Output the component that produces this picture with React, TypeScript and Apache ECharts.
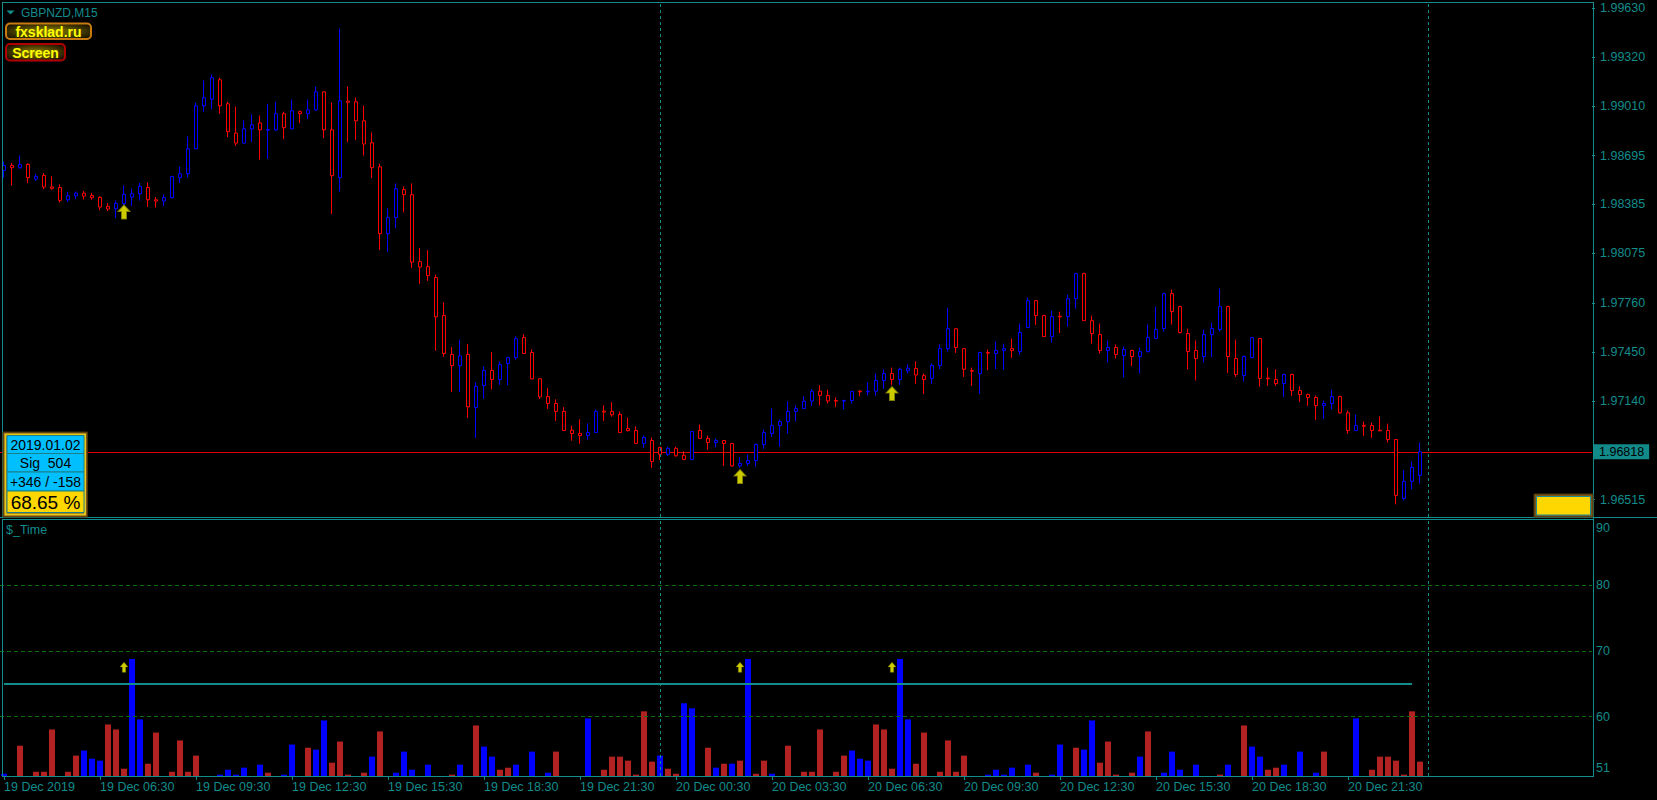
import React, { useEffect, useRef } from 'react';
import * as echarts from 'echarts';

const TEAL = '#138C8C';
const FONT = "'Liberation Sans', Arial, sans-serif";

const symbolTitle = 'GBPNZD,M15';
const timeLabels = [
  '19 Dec 2019', '19 Dec 06:30', '19 Dec 09:30', '19 Dec 12:30', '19 Dec 15:30',
  '19 Dec 18:30', '19 Dec 21:30', '20 Dec 00:30', '20 Dec 03:30', '20 Dec 06:30',
  '20 Dec 09:30', '20 Dec 12:30', '20 Dec 15:30', '20 Dec 18:30', '20 Dec 21:30',
];
const barsPerLabel = 12;
const slotCount = 199;

// [open, close, low, high] for each M15 bar
const candles: number[][] = [
  [1.98601, 1.98632, 1.98555, 1.98658], [1.98632, 1.98618, 1.98506, 1.98649], [1.98618, 1.98639, 1.98611, 1.98696],
  [1.98639, 1.98555, 1.98521, 1.98647], [1.98546, 1.98563, 1.98534, 1.9858], [1.98569, 1.98496, 1.98483, 1.98584],
  [1.98496, 1.98487, 1.98479, 1.98563], [1.98492, 1.98411, 1.98398, 1.98513], [1.98415, 1.9844, 1.984, 1.98466],
  [1.9844, 1.98457, 1.98419, 1.98468], [1.98457, 1.98438, 1.98417, 1.9847], [1.98442, 1.98428, 1.98415, 1.98459],
  [1.9843, 1.98369, 1.98348, 1.98438], [1.98373, 1.98356, 1.98344, 1.98394], [1.98358, 1.98392, 1.98299, 1.98411],
  [1.9839, 1.98449, 1.98369, 1.98506], [1.98432, 1.98453, 1.98375, 1.98485], [1.98453, 1.985, 1.98409, 1.98521],
  [1.98492, 1.98415, 1.98369, 1.98525], [1.98415, 1.98407, 1.98365, 1.98432], [1.98407, 1.98428, 1.98377, 1.98449],
  [1.98428, 1.98563, 1.98424, 1.98566], [1.98555, 1.9858, 1.98521, 1.98626], [1.9858, 1.98738, 1.98555, 1.98816],
  [1.98738, 1.9901, 1.98736, 1.99031], [1.9901, 1.99061, 1.9897, 1.99171], [1.99052, 1.99188, 1.98989, 1.99209],
  [1.99175, 1.9901, 1.9896, 1.99188], [1.99023, 1.98846, 1.98812, 1.99036], [1.98837, 1.98774, 1.98757, 1.99006],
  [1.98774, 1.98864, 1.9877, 1.98917], [1.98864, 1.9889, 1.9878, 1.98956], [1.98902, 1.98858, 1.98669, 1.98949],
  [1.98856, 1.9886, 1.98673, 1.99023], [1.98858, 1.9896, 1.9885, 1.99036], [1.9896, 1.98871, 1.98799, 1.98973],
  [1.98864, 1.98979, 1.98862, 1.9905], [1.98973, 1.9896, 1.989, 1.98981], [1.9896, 1.98985, 1.98926, 1.9905],
  [1.98985, 1.99099, 1.98977, 1.99133], [1.99099, 1.98858, 1.98805, 1.99101], [1.98858, 1.98567, 1.98325, 1.99031],
  [1.98555, 1.99042, 1.98468, 1.99499], [1.9904, 1.99033, 1.9878, 1.99133], [1.99036, 1.98915, 1.98793, 1.99063],
  [1.98915, 1.98768, 1.98696, 1.99012], [1.98776, 1.98618, 1.98552, 1.98841], [1.98624, 1.982, 1.98097, 1.98643],
  [1.982, 1.98302, 1.98084, 1.9836], [1.98302, 1.98485, 1.98235, 1.98519], [1.98479, 1.98447, 1.98335, 1.985],
  [1.98447, 1.9802, 1.97982, 1.98519], [1.98023, 1.97989, 1.97882, 1.98109], [1.97991, 1.97934, 1.97901, 1.98095],
  [1.97922, 1.97673, 1.97458, 1.97941], [1.97681, 1.97441, 1.9742, 1.97765], [1.97435, 1.97364, 1.97197, 1.97481],
  [1.97364, 1.97426, 1.97197, 1.97529], [1.97435, 1.97103, 1.97033, 1.975], [1.97099, 1.97232, 1.96906, 1.97259],
  [1.97238, 1.97333, 1.97153, 1.9736], [1.97333, 1.97276, 1.97213, 1.97451], [1.97276, 1.97371, 1.97242, 1.9739],
  [1.97377, 1.97416, 1.9724, 1.97418], [1.97416, 1.97535, 1.97401, 1.9755], [1.97542, 1.97441, 1.97438, 1.97563],
  [1.97447, 1.9728, 1.97278, 1.97468], [1.97281, 1.97166, 1.97153, 1.97283], [1.97168, 1.97124, 1.9709, 1.97223],
  [1.97124, 1.97074, 1.97014, 1.97151], [1.97074, 1.96953, 1.9695, 1.97101], [1.96955, 1.96934, 1.96888, 1.96984],
  [1.96934, 1.96921, 1.96869, 1.97024], [1.96921, 1.9694, 1.96894, 1.96999], [1.9694, 1.97074, 1.96938, 1.97086],
  [1.97076, 1.9707, 1.97014, 1.97113], [1.97074, 1.97052, 1.9704, 1.97132], [1.97055, 1.9694, 1.96938, 1.97074],
  [1.96966, 1.96953, 1.96947, 1.97035], [1.96953, 1.96871, 1.96869, 1.96978], [1.96871, 1.96909, 1.96844, 1.96921],
  [1.9689, 1.96757, 1.96716, 1.96909], [1.96846, 1.96802, 1.96765, 1.9685], [1.96802, 1.9684, 1.96791, 1.9685],
  [1.9684, 1.96793, 1.96787, 1.9685], [1.96796, 1.96769, 1.96767, 1.96821], [1.96769, 1.96947, 1.96767, 1.96949],
  [1.96953, 1.96903, 1.969, 1.96991], [1.96903, 1.96877, 1.96831, 1.96921], [1.96877, 1.9689, 1.96846, 1.96903],
  [1.9689, 1.96871, 1.96729, 1.96892], [1.96871, 1.96729, 1.96723, 1.96873], [1.96729, 1.96744, 1.96716, 1.96784],
  [1.96744, 1.96763, 1.96729, 1.96802], [1.96763, 1.96865, 1.96723, 1.96871], [1.96865, 1.9694, 1.96837, 1.96959],
  [1.96934, 1.96984, 1.96913, 1.97092], [1.96984, 1.9701, 1.9685, 1.97022], [1.9701, 1.97074, 1.96932, 1.97139],
  [1.97074, 1.97092, 1.9701, 1.97113], [1.97092, 1.97139, 1.9709, 1.9717], [1.97139, 1.97202, 1.97109, 1.97215],
  [1.97202, 1.97176, 1.97111, 1.9724], [1.97174, 1.97141, 1.97124, 1.97212], [1.97143, 1.97139, 1.97101, 1.97164],
  [1.97139, 1.97143, 1.97086, 1.97149], [1.97143, 1.972, 1.97124, 1.97206], [1.97202, 1.97198, 1.9717, 1.9721],
  [1.97198, 1.97202, 1.97176, 1.97259], [1.97202, 1.9727, 1.97174, 1.97314], [1.9727, 1.97314, 1.97217, 1.97341],
  [1.97314, 1.97276, 1.97242, 1.97352], [1.97276, 1.97341, 1.97242, 1.97352], [1.97331, 1.97348, 1.97314, 1.97373],
  [1.97346, 1.97305, 1.97249, 1.97392], [1.97301, 1.97276, 1.97185, 1.97314], [1.97283, 1.97365, 1.97249, 1.97379],
  [1.97365, 1.97472, 1.97343, 1.97498], [1.97472, 1.97598, 1.97453, 1.97731], [1.97598, 1.97479, 1.97445, 1.976],
  [1.97472, 1.97341, 1.97293, 1.97474], [1.97333, 1.97329, 1.97236, 1.97352], [1.97314, 1.97447, 1.97185, 1.97453],
  [1.97447, 1.97443, 1.97335, 1.97466], [1.97441, 1.9746, 1.97343, 1.97517], [1.9746, 1.97472, 1.97337, 1.97504],
  [1.97472, 1.9746, 1.97413, 1.97536], [1.97453, 1.97574, 1.97432, 1.97631], [1.97605, 1.97776, 1.97603, 1.97795],
  [1.97776, 1.97681, 1.97622, 1.97778], [1.97681, 1.97548, 1.97546, 1.97687], [1.97548, 1.97675, 1.9751, 1.97713],
  [1.97677, 1.97673, 1.97571, 1.97706], [1.97675, 1.97788, 1.97611, 1.97814], [1.97788, 1.97947, 1.97725, 1.97953],
  [1.97947, 1.97649, 1.97647, 1.97953], [1.97649, 1.97567, 1.97504, 1.97681], [1.97561, 1.9746, 1.97441, 1.97631],
  [1.9746, 1.97479, 1.97384, 1.97523], [1.97479, 1.97435, 1.97409, 1.97498], [1.97428, 1.97466, 1.97289, 1.97485],
  [1.9746, 1.97422, 1.97362, 1.97466], [1.97422, 1.97453, 1.97314, 1.97479], [1.97453, 1.97542, 1.97447, 1.97624],
  [1.97536, 1.97593, 1.97534, 1.97738], [1.97599, 1.9782, 1.9758, 1.97827], [1.9782, 1.97706, 1.97624, 1.97846],
  [1.97738, 1.97574, 1.97567, 1.97744], [1.97567, 1.97453, 1.97341, 1.97598], [1.9746, 1.97409, 1.9727, 1.97523],
  [1.97422, 1.97561, 1.97384, 1.97593], [1.97561, 1.97599, 1.97419, 1.97637], [1.97593, 1.97738, 1.9758, 1.97852],
  [1.97738, 1.97422, 1.97318, 1.97744], [1.97409, 1.97308, 1.97293, 1.97529], [1.97301, 1.97422, 1.97263, 1.97428],
  [1.97415, 1.97542, 1.97413, 1.97544], [1.97536, 1.97283, 1.9723, 1.97538], [1.97285, 1.97281, 1.97236, 1.97352],
  [1.97276, 1.97251, 1.97236, 1.97341], [1.97251, 1.97308, 1.97166, 1.97314], [1.97308, 1.97206, 1.97172, 1.97314],
  [1.97206, 1.97181, 1.97134, 1.97232], [1.97181, 1.97162, 1.97109, 1.97187], [1.97162, 1.97111, 1.9702, 1.97174],
  [1.97111, 1.97124, 1.97026, 1.97143], [1.97124, 1.97168, 1.97086, 1.97212], [1.97168, 1.97065, 1.97059, 1.97174],
  [1.97065, 1.96953, 1.96932, 1.9708], [1.96953, 1.96984, 1.96951, 1.97054], [1.96986, 1.9698, 1.96919, 1.9701],
  [1.96984, 1.96953, 1.96906, 1.97003], [1.96955, 1.96951, 1.96949, 1.97041], [1.96953, 1.96896, 1.96877, 1.96997],
  [1.96896, 1.96542, 1.96485, 1.96898], [1.96523, 1.96631, 1.9651, 1.96702], [1.96631, 1.96719, 1.9658, 1.96757],
  [1.96669, 1.96818, 1.96617, 1.96877],
];

const priceMin = 1.96405;
const priceMax = 1.99668;
const priceTicks = [1.9963, 1.9932, 1.9901, 1.98695, 1.98385, 1.98075, 1.9776, 1.9745, 1.9714, 1.96515];
const bidPrice = 1.96818;

const daySeparators = [82, 178];
const signalBars = [15, 92, 111];
const signalPrices = [1.98337, 1.96662, 1.97187];

// "$_Time" indicator histogram
const timeValues: (number | null)[] = [
  51.34, null, 55.6, null, 51.65, 51.65, 58.06, null, 51.65, 54.09,
  54.86, 53.63, 53.33, 58.82, 58.06, 52.1, 68.75, 59.59, 52.87, 57.6,
  null, 51.65, 56.4, 51.65, 54.09, null, null, 51.2, 51.95, 51.2,
  52.26, null, 52.72, 51.5, null, 51.2, 55.77, null, 55.3, 55.0,
  59.43, 53.02, 56.23, 51.2, null, 51.5, 53.94, 57.76, null, 51.5,
  54.7, 51.95, null, 52.72, null, null, 51.2, 52.72, null, 58.67,
  55.46, 53.94, 51.95, 52.26, 52.72, null, 54.7, null, 51.5, 54.7,
  null, null, null, 59.74, null, 51.95, 53.94, 53.94, 53.33, 51.2,
  60.81, 53.18, 54.09, 52.1, 51.34, 62.03, 61.27, null, 55.3, 52.26,
  52.87, 52.87, 53.33, 68.75, 51.34, 53.33, 51.34, null, 55.6, null,
  51.65, 51.65, 58.06, null, 51.65, 54.09, 54.86, 53.63, 53.33, 58.82,
  58.06, 52.1, 68.75, 59.59, 52.87, 57.6, null, 51.65, 56.4, 51.65,
  54.09, null, null, 51.2, 51.95, 51.2, 52.26, null, 52.72, 51.5,
  null, 51.2, 55.77, null, 55.3, 55.0, 59.43, 53.02, 56.23, 51.2,
  null, 51.5, 53.94, 57.76, null, 51.5, 54.7, 51.95, null, 52.72,
  null, null, 51.2, 52.72, null, 58.67, 55.46, 53.94, 51.95, 52.26,
  52.72, null, 54.7, null, 51.5, 54.7, null, null, null, 59.74,
  null, 51.95, 53.94, 53.94, 53.33, 51.2, 60.81, 53.18,
];
// r = red bar, b = blue bar, - = none
const timeColors =
  'b-r-rrr-rr' + 'bbbrrrbbrr' + '-rrrr--bbb' + 'b-br-bb-rb' + 'brrr-rbr-b' +
  'bb-b--rb-r' + 'bbrrb-b-br' + '---b-rrrrr' + 'rrbrrbb-rb' + 'rbrbrrb-r-' +
  'rrr-rrbbbr' + 'rrbbrr-rrr' + 'r--bbbb-br' + '-bb-rbbrrr' + '-rbr-bbb-b' +
  '--rb-rbbrr' + 'b-b-br---b' + '-rrrrrrr';
const timeAxisMin = 51;
const timeAxisMax = 90;
const timeAxisLabels = [51, 60, 70, 80, 90];
const timeLevels = [60, 70, 80];
const timeThreshold = 65;
const thresholdEndBar = 176;
const timeSignalValue = 67.5;

const infoRows = ['2019.01.02', 'Sig  504', '+346 / -158', '68.65 %'];

const ARROW = 'path://M6,0 L12,6 L8.5,6 L8.5,13 L3.5,13 L3.5,6 L0,6 Z';

function buildOption() {
  const cats = Array.from({ length: slotCount }, (_, i) => String(i));
  const redData = timeValues.map((v, i) => (timeColors[i] === 'r' ? v : null));
  const blueData = timeValues.map((v, i) => (timeColors[i] === 'b' ? v : null));
  const mainSignals = signalBars.map((k, i) => [k, signalPrices[i]]);
  const timeSignals = signalBars.map((k) => [k, timeSignalValue]);
  const lastLabelBar = (timeLabels.length - 1) * barsPerLabel;
  const showTick = (idx: number) => idx % barsPerLabel === 0 && idx <= lastLabelBar;

  const line = (x1: number, y1: number, x2: number, y2: number) => ({
    type: 'line', silent: true, z: 50,
    shape: { x1, y1, x2, y2 },
    style: { stroke: TEAL, lineWidth: 1 },
  });
  const glow = (c0: string, c1: string) => ({
    type: 'radial', x: 0.5, y: 0.5, r: 0.6,
    colorStops: [{ offset: 0, color: c0 }, { offset: 1, color: c1 }],
  });

  const cellY = [435.5, 453.5, 472, 491];
  const cellH = [18, 18.5, 19, 21.5];
  const infoCells: any[] = [];
  infoRows.forEach((t, i) => {
    infoCells.push({
      type: 'rect', z: 52, silent: true,
      shape: { x: 7, y: cellY[i], width: 77, height: cellH[i] },
      style: { fill: i === 3 ? '#FFD700' : '#00BFFF', stroke: '#1A7F8C', lineWidth: 1 },
    });
    infoCells.push({
      type: 'text', z: 53, silent: true,
      style: {
        text: t, x: 45.5, y: cellY[i] + cellH[i] / 2 + 0.5,
        fill: '#000', font: `${i === 3 ? 19 : 14}px ${FONT}`,
        align: 'center', verticalAlign: 'middle',
      },
    });
  });

  return {
    backgroundColor: '#000',
    animation: false,
    grid: [
      { left: 0, top: 2, width: 1592, height: 515, show: false },
      { left: 0, top: 519, width: 1592, height: 257, show: false },
    ],
    xAxis: [
      {
        type: 'category', gridIndex: 0, data: cats, boundaryGap: true,
        axisLine: { show: false }, axisTick: { show: false }, axisLabel: { show: false }, splitLine: { show: false },
      },
      {
        type: 'category', gridIndex: 1, data: cats, boundaryGap: true,
        axisLine: { show: false },
        axisTick: { show: true, alignWithLabel: true, interval: (i: number) => showTick(i), length: 4, lineStyle: { color: TEAL } },
        axisLabel: {
          show: true, interval: (i: number) => showTick(i), align: 'left', margin: 4,
          color: TEAL, fontSize: 12.5, fontFamily: FONT,
          formatter: (_v: string, i: number) => timeLabels[i / barsPerLabel] ?? '',
        },
        splitLine: { show: false },
      },
    ],
    yAxis: [
      {
        type: 'value', gridIndex: 0, position: 'right', min: priceMin, max: priceMax,
        axisLine: { show: false }, splitLine: { show: false },
        axisTick: { show: true, length: 3, lineStyle: { color: TEAL }, customValues: priceTicks },
        axisLabel: {
          customValues: [...priceTicks, bidPrice], margin: 2,
          formatter: (v: number) => (v === bidPrice ? `{bid|${v.toFixed(5)}}` : `{p|${v.toFixed(5)}}`),
          rich: {
            p: { color: TEAL, fontSize: 12.5, fontFamily: FONT, padding: [0, 0, 0, 6] },
            bid: { color: '#000', backgroundColor: '#138A8A', fontSize: 12.5, fontFamily: FONT, padding: [1, 5, 1, 5], lineHeight: 13 },
          },
        },
      },
      {
        type: 'value', gridIndex: 1, position: 'right', min: timeAxisMin, max: timeAxisMax,
        axisLine: { show: false }, splitLine: { show: false }, axisTick: { show: false },
        axisLabel: {
          customValues: timeAxisLabels, margin: 4,
          formatter: (v: number) => (v === timeAxisMax ? `{top|${v}}` : v === timeAxisMin ? `{bot|${v}}` : `{n|${v}}`),
          rich: {
            n: { color: TEAL, fontSize: 12.5, fontFamily: FONT },
            top: { color: TEAL, fontSize: 12.5, fontFamily: FONT, padding: [18, 0, 0, 0] },
            bot: { color: TEAL, fontSize: 12.5, fontFamily: FONT, padding: [0, 0, 16, 0] },
          },
        },
      },
    ],
    series: [
      {
        type: 'candlestick', xAxisIndex: 0, yAxisIndex: 0, data: candles, barWidth: 4,
        itemStyle: { color: '#000', color0: '#000', borderColor: '#0000FF', borderColor0: '#FF0000', borderWidth: 1 },
        markLine: {
          symbol: 'none', silent: true, label: { show: false }, precision: 5,
          data: daySeparators.map((k) => ({ xAxis: k, lineStyle: { color: TEAL, type: [3, 3], width: 1 } })),
        },
      },
      {
        type: 'scatter', xAxisIndex: 0, yAxisIndex: 0, data: mainSignals, symbol: ARROW, symbolSize: [12, 14], z: 6,
        itemStyle: { color: '#FFFF00', borderColor: '#8A8A00', borderWidth: 1 },
        markLine: {
          symbol: 'none', silent: true, label: { show: false }, precision: 5, z: 1,
          data: [{ yAxis: bidPrice, lineStyle: { color: '#E00000', type: 'solid', width: 1 } }],
        },
      },
      {
        type: 'bar', xAxisIndex: 1, yAxisIndex: 1, data: redData, barWidth: 6, barGap: '-100%', clip: true,
        itemStyle: { color: '#B22222' },
        markLine: {
          symbol: 'none', silent: true, label: { show: false }, precision: 5,
          data: [
            ...timeLevels.map((v) => ({ yAxis: v, lineStyle: { color: '#0A6E0A', type: [4, 3], width: 1 } })),
            [
              { coord: [0, timeThreshold], lineStyle: { color: TEAL, type: 'solid', width: 2 } },
              { coord: [thresholdEndBar, timeThreshold], lineStyle: { color: TEAL, type: 'solid', width: 2 } },
            ],
            ...daySeparators.map((k) => ({ xAxis: k, lineStyle: { color: TEAL, type: [3, 3], width: 1 } })),
          ],
        },
      },
      {
        type: 'bar', xAxisIndex: 1, yAxisIndex: 1, data: blueData, barWidth: 6, barGap: '-100%', clip: true,
        itemStyle: { color: '#0000FF' },
      },
      {
        type: 'scatter', xAxisIndex: 1, yAxisIndex: 1, data: timeSignals, symbol: ARROW, symbolSize: [8, 10], z: 6,
        itemStyle: { color: '#FFFF00', borderColor: '#8A8A00', borderWidth: 0.5 },
      },
    ],
    graphic: [
      line(2, 2.5, 1594, 2.5),
      line(2.5, 2, 2.5, 517),
      line(0, 517.5, 1657, 517.5),
      line(2, 519.5, 1594, 519.5),
      line(2.5, 519, 2.5, 777),
      line(2, 776.5, 1594, 776.5),
      line(1593.5, 2, 1593.5, 777),
      { type: 'polygon', z: 50, silent: true, shape: { points: [[6.5, 10.5], [14.5, 10.5], [10.5, 14.5]] }, style: { fill: TEAL } },
      { type: 'text', z: 50, silent: true, style: { text: symbolTitle, x: 21, y: 13, fill: TEAL, font: `12px ${FONT}`, verticalAlign: 'middle' } },
      { type: 'rect', z: 50, silent: true, shape: { x: 6, y: 23.5, width: 85, height: 15.5, r: 4 }, style: { fill: glow('#8E8000', '#1C1600'), stroke: '#C77A10', lineWidth: 2 } },
      { type: 'text', z: 51, silent: true, style: { text: 'fxsklad.ru', x: 48.5, y: 31.5, fill: '#FFFF00', font: `bold 14px ${FONT}`, align: 'center', verticalAlign: 'middle' } },
      { type: 'rect', z: 50, silent: true, shape: { x: 6, y: 44, width: 59, height: 16.5, r: 4 }, style: { fill: glow('#8E8000', '#1C1000'), stroke: '#B00000', lineWidth: 2 } },
      { type: 'text', z: 51, silent: true, style: { text: 'Screen', x: 35.5, y: 52.5, fill: '#FFFF00', font: `bold 14px ${FONT}`, align: 'center', verticalAlign: 'middle' } },
      { type: 'rect', z: 51, silent: true, shape: { x: 3, y: 432, width: 84.5, height: 85 }, style: { fill: '#7A5418', stroke: '#4A3008', lineWidth: 1 } },
      { type: 'rect', z: 51, silent: true, shape: { x: 5.5, y: 434.5, width: 79.5, height: 80 }, style: { fill: 'none', stroke: '#E6C619', lineWidth: 2 } },
      ...infoCells,
      { type: 'rect', z: 51, silent: true, shape: { x: 1534, y: 494, width: 59, height: 23 }, style: { fill: '#7A5418', stroke: '#4A3008', lineWidth: 1 } },
      { type: 'rect', z: 52, silent: true, shape: { x: 1536.5, y: 496.5, width: 54, height: 18.5 }, style: { fill: '#FFD700', stroke: '#1A8C9A', lineWidth: 1 } },
      { type: 'text', z: 50, silent: true, style: { text: '$_Time', x: 6, y: 530, fill: TEAL, font: `12.5px ${FONT}`, verticalAlign: 'middle' } },
    ],
  };
}

export default function App() {
  const ref = useRef<HTMLDivElement>(null);
  useEffect(() => {
    if (!ref.current) return;
    const chart = echarts.init(ref.current, null, { renderer: 'svg' });
    chart.setOption(buildOption() as any);
    return () => chart.dispose();
  }, []);
  return (
    <div
      ref={ref}
      style={{ position: 'fixed', left: 0, top: 0, width: 1657, height: 800, background: '#000' }}
    />
  );
}
